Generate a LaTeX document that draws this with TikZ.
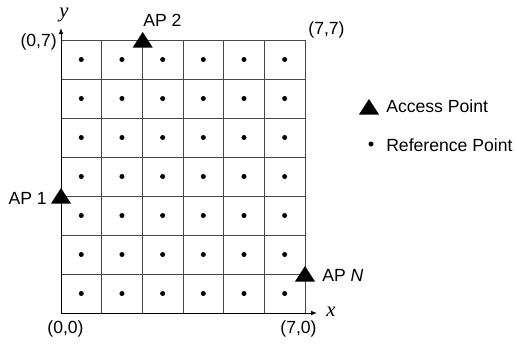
\documentclass[tikz,border=0pt]{standalone}
\usepackage{fontspec}
\setmainfont{Liberation Sans}
\newfontfamily\axisfont{Liberation Serif}
\usetikzlibrary{arrows.meta}

\tikzset{
  gridline/.style={draw={rgb,255:red,70;green,70;blue,70}, line width=0.6},
  axisline/.style={draw=black, line width=0.6, -{Latex[length=4.5,width=3.5]}},
  lbl/.style={inner sep=0.75pt, font=\fontsize{13.2}{15}\selectfont},
  axlbl/.style={inner sep=0.75pt, font=\fontsize{15.5}{17}\selectfont\axisfont\itshape},
}
\newcommand{\apmark}[1]{\fill[shift={(#1)}] (0,-8) -- (10,7.5) -- (-10,7.5) -- cycle;}

\begin{document}
\begin{tikzpicture}[x=0.75pt,y=0.75pt,yscale=-1,xscale=1]
        \useasboundingbox (0,0) rectangle (517,343);

        % grid
        \foreach \i in {0,...,6} {
          \draw[gridline] ({61+\i*40.67},40) -- ({61+\i*40.67},313);
        }
        \foreach \j in {0,...,7} {
          \draw[gridline] (61,{40+\j*39}) -- (305,{40+\j*39});
        }

        % reference points
        \foreach \i in {0,...,5} {
          \foreach \j in {0,...,6} {
            \fill ({81.3+\i*40.67},{59.5+\j*39}) circle [radius=2.5];
          }
        }

        % axes
        \coordinate (origin) at (61,313);
        \coordinate (ytip) at (61,28);
        \coordinate (xtip) at (317,313);
        \draw[axisline] (origin) -- (ytip);
        \draw[axisline] (origin) -- (xtip);
        \node[axlbl] (ylab) at (64,15) {y};
        \node[axlbl] (xlab) at (331,312) {x};

        % corner labels
        \node[lbl, anchor=east] (c07) at (58,42) {(0,7)};
        \node[lbl] (c77) at (326.5,30) {(7,7)};
        \node[lbl] (c00) at (65.5,329) {(0,0)};
        \node[lbl] (c70) at (298.5,329) {(7,0)};

        % access points
        \coordinate (ap2) at (142.7,40);
        \coordinate (ap1) at (61,196);
        \coordinate (apN) at (305,274);
        \apmark{ap2}
        \apmark{ap1}
        \apmark{apN}
        \node[lbl, anchor=west] (ap2lab) at (142,20) {AP 2};
        \node[lbl, anchor=east] (ap1lab) at (48,198.5) {AP 1};
        \node[lbl, anchor=west] (apNlab) at (321,275) {AP \textit{N}};

        % legend
        \coordinate (legap) at (369,107);
        \apmark{legap}
        \node[lbl, anchor=west] (legaplab) at (385,106) {Access Point};
        \fill (371,144) circle [radius=2.5];
        \node[lbl, anchor=west] (legrplab) at (385,145) {Reference Point};

\end{tikzpicture}
\end{document}
